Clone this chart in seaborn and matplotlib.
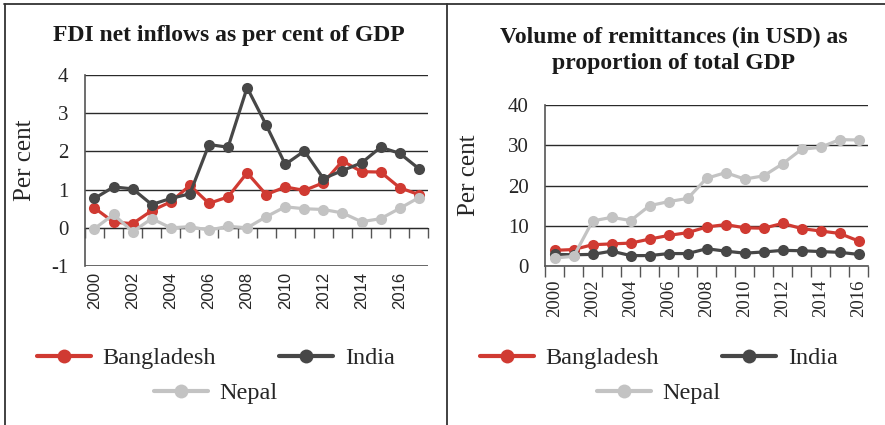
import matplotlib
matplotlib.use("Agg")
import matplotlib.pyplot as plt
from matplotlib.lines import Line2D
import numpy as np
import pandas as pd
import seaborn as sns

# FDI net inflows (% of GDP), 2000-2017
fdi_years = list(range(2000, 2018))
fdi_bangladesh = [0.52, 0.15, 0.11, 0.45, 0.68, 1.11, 0.64, 0.81, 1.44, 0.87,
                  1.07, 0.98, 1.18, 1.75, 1.47, 1.46, 1.05, 0.87]
fdi_india = [0.77, 1.07, 1.02, 0.61, 0.77, 0.89, 2.18, 2.11, 3.67, 2.69,
             1.66, 2.01, 1.29, 1.50, 1.70, 2.11, 1.95, 1.55]
fdi_nepal = [-0.02, 0.35, -0.10, 0.24, 0.00, 0.03, -0.06, 0.04, 0.00, 0.29,
             0.55, 0.50, 0.48, 0.39, 0.16, 0.24, 0.51, 0.79]

# remittances (% of GDP), 2000-2016
rem_years = list(range(2000, 2017))
rem_bangladesh = [3.9, 4.1, 5.3, 5.5, 5.7, 6.7, 7.6, 8.3, 9.7, 10.3,
                  9.5, 9.4, 10.6, 9.3, 8.7, 8.1, 6.2]
rem_india = [2.9, 2.8, 2.9, 3.7, 2.6, 2.6, 3.1, 3.1, 4.3, 3.7,
             3.2, 3.5, 3.9, 3.8, 3.6, 3.4, 2.9]
rem_nepal = [2.0, 2.4, 11.2, 12.1, 11.3, 15.0, 16.0, 16.8, 21.8, 23.2,
             21.6, 22.4, 25.4, 29.0, 29.5, 31.4, 31.3]

countries = ["Bangladesh", "India", "Nepal"]
colors = {"Bangladesh": "#d03a32", "India": "#474747", "Nepal": "#c3c3c3"}

fdi_ticks = [-1, 0, 1, 2, 3, 4]
rem_ticks = [0, 10, 20, 30, 40]

sns.set_style("white")
plt.rcParams["font.family"] = ["Liberation Serif", "DejaVu Serif"]
plt.rcParams["axes.unicode_minus"] = False


def long_df(years, b, i, n):
    df = pd.DataFrame({"year": years, "Bangladesh": b, "India": i, "Nepal": n})
    return df.melt(id_vars="year", var_name="country", value_name="value")


def draw(ax, df, years, yticks, year_font, year_size):
    sns.lineplot(data=df, x="year", y="value", hue="country", hue_order=countries,
                 palette=colors, marker="o", markersize=8, markeredgewidth=0,
                 linewidth=2.3, legend=False, ax=ax, zorder=3)
    ax.set_xlim(years[0] - 0.5, years[-1] + 0.5)
    ax.set_ylim(yticks[0], yticks[-1])
    ax.set_yticks(yticks)
    ax.yaxis.grid(True, color="#2a2a2a", linewidth=1.0)
    ax.xaxis.grid(False)
    for s in ["top", "right", "bottom"]:
        ax.spines[s].set_visible(False)
    ax.spines["left"].set_color("#555555")
    ax.spines["left"].set_linewidth(1.2)
    ax.tick_params(axis="y", length=6, width=1, color="#555555", labelsize=15, pad=6)
    ax.set_xticks(years[::2])
    ax.set_xticklabels([str(y) for y in years[::2]], rotation=90,
                       family=year_font, fontsize=year_size)
    ax.tick_params(axis="x", which="major", length=0, pad=4)
    ax.set_xlabel("")
    ax.set_ylabel("Per cent", fontsize=18)


fig = plt.figure(figsize=(8.85, 4.25), dpi=100)

# left panel
ax1 = fig.add_axes([0.096, 0.374, 0.388, 0.4495])
fdi = long_df(fdi_years, fdi_bangladesh, fdi_india, fdi_nepal)
draw(ax1, fdi, fdi_years, fdi_ticks, "Liberation Sans", 12)
ax1.yaxis.set_label_coords(-0.143, 0.555)
bounds1 = np.arange(fdi_years[0] - 0.5, fdi_years[-1] + 1, 1)
sec = ax1.secondary_xaxis(0.2)
sec.set_xticks(bounds1)
sec.set_xticklabels([])
sec.tick_params(length=7.5, width=1, color="#555555", direction="out")
sec.spines["bottom"].set_color("#333333")
ax1.axhline(-1, color="#555555", linewidth=1.2)

# right panel
ax2 = fig.add_axes([0.616, 0.374, 0.365, 0.379])
rem = long_df(rem_years, rem_bangladesh, rem_india, rem_nepal)
draw(ax2, rem, rem_years, rem_ticks, "Liberation Serif", 13.5)
ax2.yaxis.set_label_coords(-0.201, 0.565)
ax2.spines["bottom"].set_visible(True)
ax2.spines["bottom"].set_color("#555555")
ax2.spines["bottom"].set_linewidth(1.2)
ax2.set_xticks(np.arange(rem_years[0] - 0.5, rem_years[-1] + 1, 1), minor=True)
ax2.tick_params(axis="x", which="minor", length=8, width=1, color="#555555",
                direction="out", bottom=True)
ax2.tick_params(axis="x", which="major", pad=10)

# titles
fig.text(0.258, 0.917, "FDI net inflows as per cent of GDP", ha="center",
         va="center", fontsize=17, fontweight="bold", color="#1a1a1a")
fig.text(0.761, 0.882, "Volume of remittances (in USD) as\nproportion of total GDP",
         ha="center", va="center", fontsize=17, fontweight="bold",
         color="#1a1a1a", linespacing=1.3)


# legends: two centred rows per panel
def legend_rows(cx):
    kw = dict(frameon=False, fontsize=17.5, handlelength=2.2, handletextpad=0.5,
              columnspacing=2.6, loc="center", borderaxespad=0, borderpad=0)
    handles = [Line2D([], [], color=colors[c], marker="o", markersize=10,
                      markeredgewidth=0, linewidth=3) for c in countries]
    fig.legend(handles[:2], countries[:2], ncol=2,
               bbox_to_anchor=(cx, 1 - 358 / 425), **kw)
    fig.legend(handles[2:], countries[2:], ncol=1,
               bbox_to_anchor=(cx, 1 - 393 / 425), **kw)


legend_rows(216 / 885)
legend_rows(659 / 885)

# frame lines
frame = dict(color="#333333", linewidth=1.3, transform=fig.transFigure)
fig.add_artist(Line2D([4 / 885, 1], [1 - 4 / 425] * 2, **frame))
fig.add_artist(Line2D([5 / 885] * 2, [0, 1 - 4 / 425], **frame))
fig.add_artist(Line2D([447 / 885] * 2, [0, 1 - 4 / 425], **frame))

fig.savefig("out.png", dpi=100)
